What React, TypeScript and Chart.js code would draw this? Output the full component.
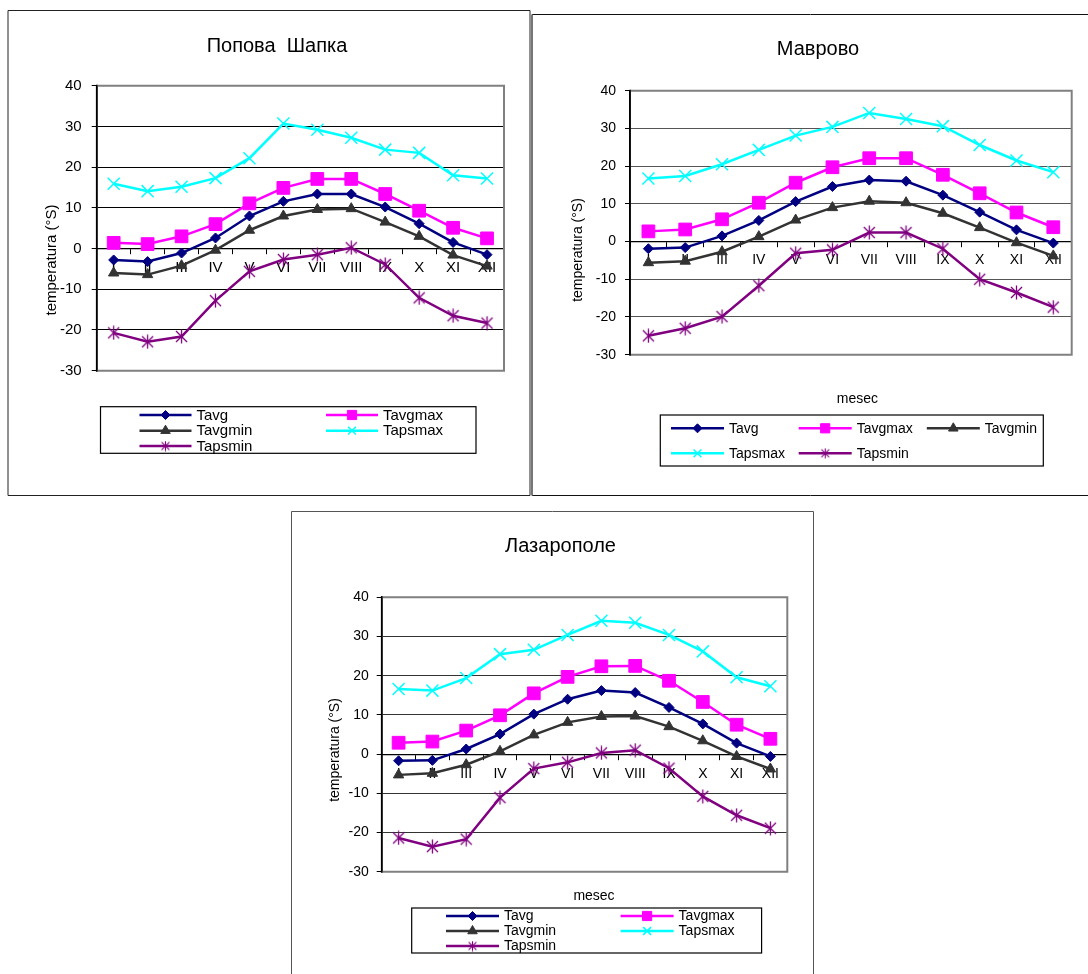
import React, { useEffect, useRef } from 'react';
import { Chart, registerables } from 'chart.js';
import { drawPoint } from 'chart.js/helpers';

Chart.register(...registerables);

const FONT = '"Liberation Sans", Arial, Helvetica, sans-serif';

// ---------- data ----------
const months = ['I', 'II', 'III', 'IV', 'V', 'VI', 'VII', 'VIII', 'IX', 'X', 'XI', 'XII'];
const seriesNames = ['Tavg', 'Tavgmax', 'Tavgmin', 'Tapsmax', 'Tapsmin'];
const stationTitles = ['Попова  Шапка', 'Маврово', 'Лазарополе'];
const yAxisTitle = 'temperatura (°S)';
const xAxisTitle = 'mesec';
const yMin = -30;
const yMax = 40;
const yStep = 10;

// Попова Шапка
const psTavg = [-2.8, -3.2, -1.1, 2.6, 8.0, 11.6, 13.4, 13.4, 10.2, 6.1, 1.5, -1.5];
const psTavgmax = [1.4, 1.1, 3.0, 6.0, 11.1, 14.9, 17.1, 17.1, 13.4, 9.3, 5.1, 2.5];
const psTavgmin = [-6.0, -6.4, -4.2, -0.4, 4.5, 8.0, 9.6, 9.8, 6.5, 3.0, -1.6, -4.3];
const psTapsmax = [15.9, 14.1, 15.2, 17.3, 22.2, 30.7, 29.2, 27.2, 24.3, 23.5, 18.0, 17.2];
const psTapsmin = [-20.7, -22.9, -21.6, -12.8, -5.6, -2.7, -1.5, 0.2, -3.9, -12.1, -16.5, -18.3];

// Маврово
const mvTavg = [-1.9, -1.6, 1.5, 5.6, 10.6, 14.6, 16.3, 16.0, 12.3, 7.8, 3.1, -0.4];
const mvTavgmax = [2.7, 3.2, 5.9, 10.3, 15.6, 19.7, 22.1, 22.1, 17.7, 12.8, 7.7, 3.8];
const mvTavgmin = [-5.6, -5.2, -2.7, 1.3, 5.7, 9.0, 10.7, 10.3, 7.5, 3.7, -0.3, -3.8];
const mvTapsmax = [16.7, 17.4, 20.5, 24.3, 28.1, 30.4, 34.1, 32.5, 30.6, 25.6, 21.5, 18.4];
const mvTapsmin = [-25.0, -23.0, -19.9, -11.7, -3.1, -2.2, 2.4, 2.4, -1.9, -10.0, -13.5, -17.4];

// Лазарополе
const lzTavg = [-1.7, -1.6, 1.3, 5.1, 10.2, 14.0, 16.2, 15.7, 11.9, 7.7, 2.8, -0.6];
const lzTavgmax = [2.9, 3.2, 6.0, 9.9, 15.5, 19.7, 22.4, 22.5, 18.7, 13.3, 7.5, 3.9];
const lzTavgmin = [-5.3, -4.9, -2.7, 0.7, 4.9, 8.1, 9.6, 9.7, 7.0, 3.4, -0.6, -3.8];
const lzTapsmax = [16.6, 16.2, 19.4, 25.5, 26.6, 30.4, 34.0, 33.5, 30.4, 26.2, 19.6, 17.3];
const lzTapsmin = [-21.4, -23.6, -21.7, -11.1, -3.7, -2.1, 0.3, 1.0, -3.6, -10.8, -15.6, -18.9];

const stationSeries = [
  [psTavg, psTavgmax, psTavgmin, psTapsmax, psTapsmin],
  [mvTavg, mvTavgmax, mvTavgmin, mvTapsmax, mvTapsmin],
  [lzTavg, lzTavgmax, lzTavgmin, lzTapsmax, lzTapsmin],
];

// ---------- styles ----------
const seriesColors = ['#000080', '#FF00FF', '#333333', '#00FFFF', '#800080'];
const seriesPointRadius = [5, 9, 6, 8.5, 6];
const legendPointRadius = [4.5, 6.5, 5.5, 5.5, 6];
const seriesPointBorder = [1, 1, 1, 1.5, 1];

function makeAsterisk(size: number, color: string, lw: number) {
  const c = document.createElement('canvas');
  c.width = size;
  c.height = size;
  const g = c.getContext('2d')!;
  g.strokeStyle = color;
  g.lineWidth = lw;
  const m = size / 2;
  const r = size / 2 - 0.6;
  const d = r * 0.8;
  g.beginPath();
  g.moveTo(m, m - r);
  g.lineTo(m, m + r);
  g.moveTo(m - d, m - d);
  g.lineTo(m + d, m + d);
  g.moveTo(m + d, m - d);
  g.lineTo(m - d, m + d);
  g.stroke();
  return c;
}

type Layout = {
  canvas: { x: number; y: number; w: number; h: number };
  box: { l: number; t: number; r: number; b: number; color: string; leftColor: string; leftW: number };
  plot: { l: number; t: number; r: number; b: number };
  fs: number;
  titleFs: number;
  yPad: number;
  xPad: number;
  grid: string;
  title: { x: number; y: number };
  yTitle: { x: number; y: number };
  xTitle: { x: number; y: number };
  legend: {
    l: number; t: number; r: number; b: number;
    rows: number[]; cols: number[]; len: number;
    slots: number[][];
  };
};

const layouts: Layout[] = [
  {
    canvas: { x: 6, y: 8, w: 528, h: 492 },
    box: { l: 8, t: 10.5, r: 530, b: 495.5, color: '#222', leftColor: '#222', leftW: 1 },
    plot: { l: 96.7, t: 85.7, r: 504, b: 370.7 },
    fs: 15, titleFs: 20, yPad: 10, xPad: 5.5, grid: '#000',
    title: { x: 277, y: 46 },
    yTitle: { x: 51.7, y: 260 },
    xTitle: { x: 311, y: 413 },
    legend: {
      l: 100.5, t: 406.7, r: 476, b: 453.3,
      rows: [415, 430.7, 446], cols: [139.5, 326], len: 52,
      slots: [[0, 0], [1, 0], [0, 1], [1, 1], [0, 2]],
    },
  },
  {
    canvas: { x: 530, y: 12, w: 558, h: 488 },
    box: { l: 532, t: 14.5, r: 1300, b: 495.5, color: '#111', leftColor: '#777', leftW: 2 },
    plot: { l: 630, t: 90.7, r: 1071.7, b: 354.7 },
    fs: 14, titleFs: 20, yPad: 9, xPad: 5, grid: '#555',
    title: { x: 818, y: 49.3 },
    yTitle: { x: 578, y: 250 },
    xTitle: { x: 857.4, y: 399 },
    legend: {
      l: 660.3, t: 415, r: 1043.3, b: 466,
      rows: [428.3, 453.3], cols: [671, 798.7, 926.8], len: 53,
      slots: [[0, 0], [1, 0], [2, 0], [0, 1], [1, 1]],
    },
  },
  {
    canvas: { x: 289, y: 509, w: 530, h: 465 },
    box: { l: 291.5, t: 511.5, r: 813.5, b: 1200, color: '#555', leftColor: '#555', leftW: 1 },
    plot: { l: 381.7, t: 597.3, r: 787.3, b: 871.7 },
    fs: 14, titleFs: 20, yPad: 8, xPad: 6.4, grid: '#333',
    title: { x: 560.5, y: 546 },
    yTitle: { x: 335.6, y: 750 },
    xTitle: { x: 594, y: 896 },
    legend: {
      l: 411.7, t: 908, r: 761.6, b: 953,
      rows: [916, 931, 946], cols: [446, 620.6], len: 53,
      slots: [[0, 0], [1, 0], [0, 1], [1, 1], [0, 2]],
    },
  },
];

function StationChart({ index }: { index: number }) {
  const ref = useRef<HTMLCanvasElement | null>(null);
  const L = layouts[index];

  useEffect(() => {
    const canvas = ref.current;
    if (!canvas) return;
    const ox = L.canvas.x;
    const oy = L.canvas.y;
    const asterisk = makeAsterisk(15, seriesColors[4], 1.3);
    const asteriskSmall = makeAsterisk(11, seriesColors[4], 1.1);
    const styles: any[] = ['rectRot', 'rect', 'triangle', 'crossRot', asterisk];
    const legendStyles: any[] = ['rectRot', 'rect', 'triangle', 'crossRot', asteriskSmall];

    const datasets = seriesNames.map((name, i) => ({
      label: name,
      data: stationSeries[index][i],
      borderColor: seriesColors[i],
      backgroundColor: seriesColors[i],
      pointBackgroundColor: seriesColors[i],
      pointBorderColor: seriesColors[i],
      borderWidth: 2.5,
      pointStyle: styles[i],
      pointRadius: seriesPointRadius[i],
      pointHoverRadius: seriesPointRadius[i],
      pointBorderWidth: seriesPointBorder[i],
      tension: 0,
      order: 4 - i,
      clip: false as any,
    }));

    const decor = {
      id: 'decor',
      beforeDatasetsDraw(chart: any) {
        const { ctx, chartArea: a } = chart;
        ctx.save();
        ctx.strokeStyle = '#808080';
        ctx.lineWidth = 2;
        ctx.beginPath();
        ctx.moveTo(a.left, a.top);
        ctx.lineTo(a.right, a.top);
        ctx.lineTo(a.right, a.bottom);
        ctx.lineTo(a.left, a.bottom);
        ctx.stroke();
        ctx.strokeStyle = '#000';
        ctx.lineWidth = 1.6;
        ctx.beginPath();
        ctx.moveTo(a.left, a.top - 1);
        ctx.lineTo(a.left, a.bottom + 1);
        ctx.stroke();
        ctx.restore();
      },
      afterDraw(chart: any) {
        const ctx = chart.ctx as CanvasRenderingContext2D;
        ctx.save();
        // outer box
        const b = L.box;
        ctx.strokeStyle = b.color;
        ctx.lineWidth = 1;
        ctx.beginPath();
        ctx.moveTo(b.r - ox, b.t - oy);
        ctx.lineTo(b.l - ox, b.t - oy);
        ctx.moveTo(b.l - ox, b.b - oy);
        ctx.lineTo(b.r - ox, b.b - oy);
        ctx.lineTo(b.r - ox, b.t - oy);
        ctx.stroke();
        ctx.strokeStyle = b.leftColor;
        ctx.lineWidth = b.leftW;
        ctx.beginPath();
        ctx.moveTo(b.l - ox, b.t - oy);
        ctx.lineTo(b.l - ox, b.b - oy);
        ctx.stroke();

        ctx.fillStyle = '#000';
        ctx.textBaseline = 'middle';
        ctx.textAlign = 'center';
        // title
        ctx.font = `${L.titleFs}px ${FONT}`;
        ctx.fillText(stationTitles[index], L.title.x - ox, L.title.y - oy);
        // axis titles
        ctx.font = `${L.fs}px ${FONT}`;
        ctx.fillText(xAxisTitle, L.xTitle.x - ox, L.xTitle.y - oy);
        ctx.save();
        ctx.translate(L.yTitle.x - ox, L.yTitle.y - oy);
        ctx.rotate(-Math.PI / 2);
        ctx.fillText(yAxisTitle, 0, 0);
        ctx.restore();

        // legend
        const lg = L.legend;
        ctx.fillStyle = '#fff';
        ctx.fillRect(lg.l - ox, lg.t - oy, lg.r - lg.l, lg.b - lg.t);
        ctx.strokeStyle = '#000';
        ctx.lineWidth = 1.2;
        ctx.strokeRect(lg.l - ox, lg.t - oy, lg.r - lg.l, lg.b - lg.t);
        seriesNames.forEach((name, i) => {
          const [c, r] = lg.slots[i];
          const sx = lg.cols[c] - ox;
          const y = lg.rows[r] - oy;
          ctx.strokeStyle = seriesColors[i];
          ctx.fillStyle = seriesColors[i];
          ctx.lineWidth = 2.5;
          ctx.beginPath();
          ctx.moveTo(sx, y);
          ctx.lineTo(sx + lg.len, y);
          ctx.stroke();
          ctx.lineWidth = seriesPointBorder[i];
          drawPoint(ctx, {
            pointStyle: legendStyles[i],
            radius: legendPointRadius[i],
            rotation: 0,
            borderWidth: seriesPointBorder[i],
          } as any, sx + lg.len / 2, y);
          ctx.fillStyle = '#000';
          ctx.textAlign = 'left';
          ctx.textBaseline = 'middle';
          ctx.font = `${L.fs}px ${FONT}`;
          ctx.fillText(name, sx + lg.len + 5, y + 0.5);
        });
        ctx.restore();
      },
    };

    const yW = L.plot.l - ox;
    const chart = new Chart(canvas, {
      type: 'line',
      data: { labels: months, datasets: datasets as any },
      plugins: [decor],
      options: {
        responsive: false,
        animation: false,
        events: [],
        layout: {
          autoPadding: false,
          padding: {
            left: 0,
            top: L.plot.t - oy,
            right: ox + L.canvas.w - L.plot.r,
            bottom: oy + L.canvas.h - L.plot.b,
          },
        },
        plugins: {
          legend: { display: false },
          title: { display: false },
          tooltip: { enabled: false },
        },
        scales: {
          x: {
            type: 'category',
            offset: true,
            position: { y: 0 } as any,
            grid: {
              display: true,
              drawOnChartArea: false,
              drawTicks: true,
              tickLength: 5,
              offset: true,
              color: '#000',
            },
            border: { display: true, color: '#000', width: 1.2 },
            ticks: {
              color: '#000',
              font: { family: FONT, size: L.fs },
              padding: L.xPad,
              maxRotation: 0,
              minRotation: 0,
              autoSkip: false,
            },
          },
          y: {
            type: 'linear',
            min: yMin,
            max: yMax,
            afterFit: (scale: any) => {
              scale.width = yW;
            },
            grid: {
              color: L.grid,
              lineWidth: 1,
              drawTicks: true,
              tickLength: 5,
              tickColor: '#000',
            },
            border: { display: true, color: '#000', width: 1.6 },
            ticks: {
              stepSize: yStep,
              color: '#000',
              font: { family: FONT, size: L.fs },
              padding: L.yPad,
            },
          },
        },
      },
    });
    return () => chart.destroy();
  }, [index]);

  return (
    <canvas
      ref={ref}
      width={L.canvas.w}
      height={L.canvas.h}
      style={{
        position: 'absolute',
        left: L.canvas.x,
        top: L.canvas.y,
        width: L.canvas.w,
        height: L.canvas.h,
      }}
    />
  );
}

export default function App() {
  useEffect(() => {
    document.body.style.margin = '0';
    document.body.style.background = '#fff';
  }, []);
  return (
    <div
      style={{
        position: 'absolute',
        left: 0,
        top: 0,
        width: 1088,
        height: 974,
        overflow: 'hidden',
        background: '#fff',
      }}
    >
      <StationChart index={0} />
      <StationChart index={1} />
      <StationChart index={2} />
    </div>
  );
}
